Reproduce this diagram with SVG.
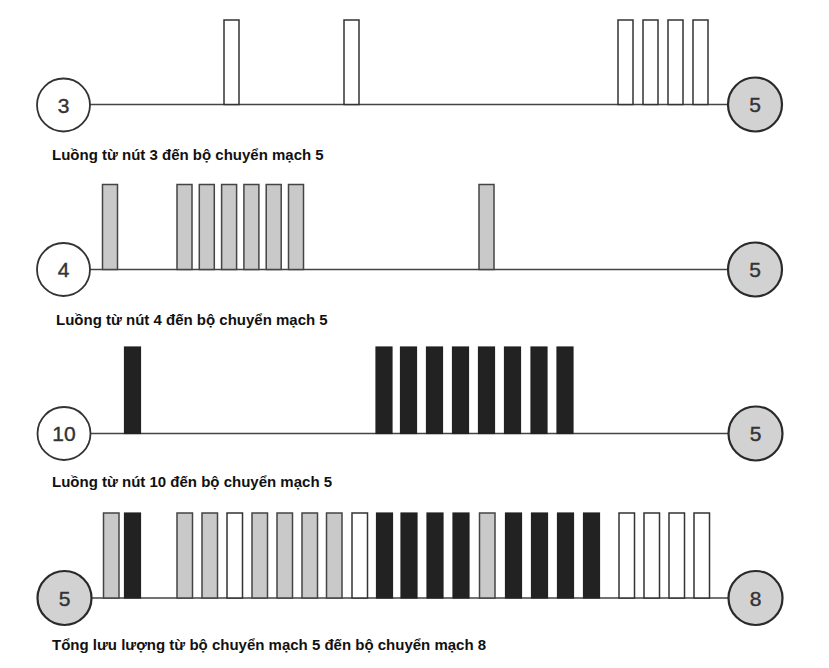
<svg xmlns="http://www.w3.org/2000/svg" width="829" height="668" viewBox="0 0 829 668">
<style>
.ln{stroke:#444;stroke-width:1.6;fill:none}
.nw{fill:#fff;stroke:#333;stroke-width:1.8}
.ng{fill:#d2d2d2;stroke:#2a2a2a;stroke-width:2.2}
.nt{font-family:"Liberation Sans",Arial,sans-serif;font-size:21px;fill:#333;stroke:#333;stroke-width:0.4;text-anchor:middle}
.lb{font-family:"Liberation Sans",Arial,sans-serif;font-size:15px;font-weight:bold;fill:#111}
.w{fill:#fff;stroke:#333;stroke-width:1.5}
.g{fill:#c9c9c9;stroke:#444;stroke-width:1.5}
.k{fill:#222;stroke:#222;stroke-width:1.2}
</style>
<g id="connectors">
<line class="ln" x1="90" y1="104.5" x2="728" y2="104.5"/>
<line class="ln" x1="90" y1="269.5" x2="728" y2="269.5"/>
<line class="ln" x1="91" y1="433.5" x2="728" y2="433.5"/>
<line class="ln" x1="92" y1="598" x2="728" y2="598"/>
</g>
<g id="packets1">
<rect class="w" x="224" y="20" width="15" height="84.5"/>
<rect class="w" x="344" y="20" width="15" height="84.5"/>
<rect class="w" x="618" y="20" width="15" height="84.5"/>
<rect class="w" x="643" y="20" width="15" height="84.5"/>
<rect class="w" x="668" y="20" width="15" height="84.5"/>
<rect class="w" x="693" y="20" width="15" height="84.5"/>
</g>
<g id="packets2">
<rect class="g" x="102.5" y="184.5" width="15" height="85"/>
<rect class="g" x="177" y="184.5" width="15" height="85"/>
<rect class="g" x="199.3" y="184.5" width="15" height="85"/>
<rect class="g" x="221.6" y="184.5" width="15" height="85"/>
<rect class="g" x="243.9" y="184.5" width="15" height="85"/>
<rect class="g" x="266.2" y="184.5" width="15" height="85"/>
<rect class="g" x="288.5" y="184.5" width="15" height="85"/>
<rect class="g" x="479" y="184.5" width="15" height="85"/>
</g>
<g id="packets3">
<rect class="k" x="124.5" y="347" width="16" height="86.5"/>
<rect class="k" x="376" y="347" width="16" height="86.5"/>
<rect class="k" x="400.5" y="347" width="16" height="86.5"/>
<rect class="k" x="426.5" y="347" width="16" height="86.5"/>
<rect class="k" x="452.5" y="347" width="16" height="86.5"/>
<rect class="k" x="478.5" y="347" width="16" height="86.5"/>
<rect class="k" x="504.5" y="347" width="16" height="86.5"/>
<rect class="k" x="531" y="347" width="16" height="86.5"/>
<rect class="k" x="557" y="347" width="16" height="86.5"/>
</g>
<g id="packets4">
<rect class="g" x="103.5" y="513" width="15.5" height="85"/>
<rect class="k" x="124.5" y="513" width="16" height="85"/>
<rect class="g" x="177" y="513" width="15.5" height="85"/>
<rect class="g" x="202" y="513" width="15.5" height="85"/>
<rect class="w" x="227" y="513" width="15.5" height="85"/>
<rect class="g" x="252" y="513" width="15.5" height="85"/>
<rect class="g" x="277" y="513" width="15.5" height="85"/>
<rect class="g" x="302" y="513" width="15.5" height="85"/>
<rect class="g" x="326.5" y="513" width="15.5" height="85"/>
<rect class="w" x="352" y="513" width="15.5" height="85"/>
<rect class="k" x="376.5" y="513" width="16" height="85"/>
<rect class="k" x="401" y="513" width="16" height="85"/>
<rect class="k" x="427" y="513" width="16" height="85"/>
<rect class="k" x="453" y="513" width="16" height="85"/>
<rect class="g" x="479.5" y="513" width="15.5" height="85"/>
<rect class="k" x="505.5" y="513" width="16" height="85"/>
<rect class="k" x="531.5" y="513" width="16" height="85"/>
<rect class="k" x="557.5" y="513" width="16" height="85"/>
<rect class="k" x="583.5" y="513" width="16" height="85"/>
<rect class="w" x="619" y="513" width="15.5" height="85"/>
<rect class="w" x="644" y="513" width="15.5" height="85"/>
<rect class="w" x="669" y="513" width="15.5" height="85"/>
<rect class="w" x="694" y="513" width="15.5" height="85"/>
</g>
<g id="node3"><circle class="nw" cx="63.5" cy="105" r="26.5"/><text class="nt" x="63.5" y="112.5">3</text></g>
<g id="node5a"><circle class="ng" cx="755" cy="104.5" r="27"/><text class="nt" x="755" y="112">5</text></g>
<g id="node4"><circle class="nw" cx="63.5" cy="269.5" r="26.5"/><text class="nt" x="63.5" y="277">4</text></g>
<g id="node5b"><circle class="ng" cx="755" cy="269.5" r="27"/><text class="nt" x="755" y="277">5</text></g>
<g id="node10"><circle class="nw" cx="64" cy="433.5" r="26.5"/><text class="nt" x="64" y="441">10</text></g>
<g id="node5c"><circle class="ng" cx="755.5" cy="433.5" r="27"/><text class="nt" x="755.5" y="441">5</text></g>
<g id="node5d"><circle class="ng" cx="64.5" cy="598" r="27"/><text class="nt" x="64.5" y="605.5">5</text></g>
<g id="node8"><circle class="ng" cx="755.5" cy="598" r="27"/><text class="nt" x="755.5" y="605.5">8</text></g>
<g id="labels">
<text class="lb" x="52" y="160">Luồng từ nút 3 đến bộ chuyển mạch 5</text>
<text class="lb" x="56" y="325">Luồng từ nút 4 đến bộ chuyển mạch 5</text>
<text class="lb" x="52" y="487">Luồng từ nút 10 đến bộ chuyển mạch 5</text>
<text class="lb" x="52" y="650">Tổng lưu lượng từ bộ chuyển mạch 5 đến bộ chuyển mạch 8</text>
</g>
</svg>
